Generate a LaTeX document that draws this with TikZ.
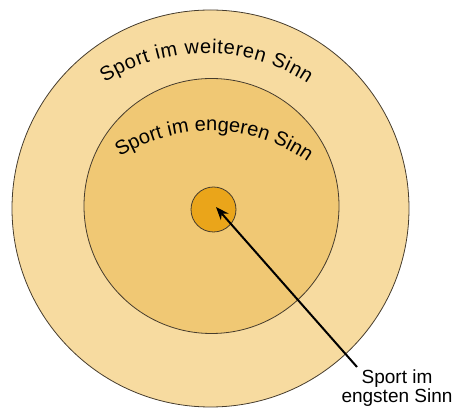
\documentclass[tikz,border=0pt]{standalone}
\usepackage{fontspec}
\setmainfont{Liberation Sans}
\usetikzlibrary{decorations.text,arrows.meta}
\definecolor{outerc}{RGB}{247,219,160}
\definecolor{midc}{RGB}{240,200,116}
\definecolor{innerc}{RGB}{234,165,26}
\definecolor{edgec}{RGB}{70,60,45}
\tikzset{
  ring/.style={circle, draw=edgec, line width=0.8pt, inner sep=0pt},
  arclabel/.style={decorate, decoration={text along path, text align=fit to path}},
  pointer/.style={draw=black, line width=2pt, -{Stealth[length=13pt,width=10pt]}},
}
\begin{document}
\begin{tikzpicture}[x=1pt,y=1pt]
\useasboundingbox (0,0) rectangle (453,409);
\node[ring, fill=outerc, minimum size=397pt] (outer) at (210.5,200.5) {};
\node[ring, fill=midc, minimum size=255pt] (middle) at (211.5,203) {};
\node[ring, fill=innerc, minimum size=45pt] (inner) at (213.5,199.5) {};
% curved labels
\path[arclabel, decoration={text={|\fontsize{20}{20}\selectfont|Sport im weiteren Sinn}}]
  (206,171) ++(123.1:185) arc[start angle=123.1, end angle=56.6, radius=185];
\path[arclabel, decoration={text={|\fontsize{20}{20}\selectfont|Sport im engeren Sinn}}]
  (210,109) ++(122.2:169) arc[start angle=122.2, end angle=56.3, radius=169];
% pointer label
\node[align=center, inner sep=0pt, anchor=north, font=\fontsize{19}{17.5}\selectfont] (lbl) at (397,39) {Sport im\\engsten Sinn};
\coordinate (astart) at (357,42);
\coordinate (tip) at (216,202);
\draw[pointer] (astart) -- (tip);
\end{tikzpicture}
\end{document}
